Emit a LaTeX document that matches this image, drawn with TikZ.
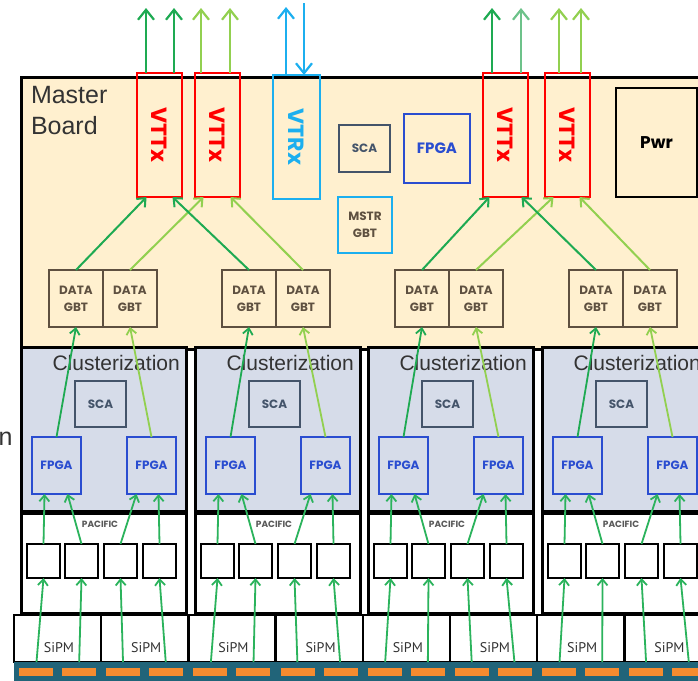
\documentclass[tikz,border=0pt]{standalone}
\usepackage{fontspec}
\usepackage{graphicx}
\setmainfont{Liberation Sans}
\newfontfamily\geo{Poppins}
\newfontfamily\ptsans{PT Sans}
\usetikzlibrary{arrows.meta,calc}
\definecolor{beige}{HTML}{FFF0CF}
\definecolor{clfill}{HTML}{D6DCE9}
\definecolor{dkg}{HTML}{1EAA52}
\definecolor{ltg}{HTML}{92D050}
\definecolor{mdg}{HTML}{6DC28A}
\definecolor{lowg}{HTML}{2BB35C}
\definecolor{vtrx}{HTML}{1CAFEF}
\definecolor{fpgab}{HTML}{2A4DD0}
\definecolor{slate}{HTML}{44546A}
\definecolor{gbt}{HTML}{5E5040}
\definecolor{tealbar}{HTML}{216479}
\definecolor{orng}{HTML}{F58B2F}
\definecolor{txtgray}{HTML}{333333}
\begin{document}
\begin{tikzpicture}[x=1pt,y=-1pt,
  bx/.style={anchor=north west, inner sep=0pt, outer sep=0pt},
  board/.style={bx, draw=black, line width=3pt, fill=beige, minimum width=700, minimum height=272},
  clbox/.style={bx, draw=black, line width=3pt, fill=clfill, minimum width=165, minimum height=164},
  pacbox/.style={bx, draw=black, line width=3pt, fill=white, minimum width=165, minimum height=100},
  sq/.style={bx, draw=black, line width=1.6pt, fill=white, minimum width=33, minimum height=34},
  sipm/.style={bx, draw=black, line width=2.5pt, fill=white, minimum width=87.2, minimum height=47},
  orect/.style={bx, fill=orng, minimum width=34, minimum height=8},
  vttx/.style={bx, draw=red, line width=1.5pt, minimum width=45, minimum height=124, text=red, font=\geo\bfseries\fontsize{22}{22}\selectfont},
  gbtbox/.style={bx, draw=gbt, line width=1.4pt, minimum width=54, minimum height=57, text=gbt, align=center, font=\geo\bfseries\fontsize{12}{17}\selectfont},
  scabox/.style={bx, draw=slate, line width=1.4pt, minimum width=51, minimum height=46, text=slate, font=\geo\bfseries\fontsize{12}{12}\selectfont},
  fpgabox/.style={bx, draw=fpgab, line width=1.4pt, fill=clfill, minimum width=49, minimum height=57, text=fpgab, font=\geo\bfseries\fontsize{12}{12}\selectfont},
  outar/.style={line width=2.2pt, -{Straight Barb[length=10pt,width=16pt]}},
  upar/.style={line width=2pt, -{Straight Barb[length=7pt,width=12pt]}},
  midar/.style={line width=1.8pt, -{Straight Barb[length=6pt,width=10pt]}},
  lowar/.style={line width=1.8pt, lowg, -{Straight Barb[length=6pt,width=10pt]}}
]
\useasboundingbox (0,0) rectangle (698,680);
\clip (0,0) rectangle (698,680);

% master board
\node[board] (mb) at (21,77) {};
\node[bx, anchor=north west, align=left, text=txtgray, font=\fontsize{25}{31}\selectfont] (mbt) at (31,86) {Master\\Board};

% VTTx / VTRx
\node[vttx] (vt1) at (137,73) {\rotatebox{-90}{VTTx}};
\node[vttx] (vt2) at (195,73) {\rotatebox{-90}{VTTx}};
\node[vttx] (vt3) at (483,73) {\rotatebox{-90}{VTTx}};
\node[vttx] (vt4) at (545,73) {\rotatebox{-90}{VTTx}};
\node[vttx, draw=vtrx, text=vtrx, minimum width=47] (vr) at (273,75) {\rotatebox{-90}{VTRx}};

\node[scabox, minimum height=47] (msca) at (339,125) {SCA};
\node[fpgabox, fill=beige, minimum width=66, minimum height=69, font=\geo\bfseries\fontsize{15}{15}\selectfont] (mfpga) at (404,114) {FPGA};
\node[gbtbox, draw=vtrx, minimum width=54, minimum height=56] (mstr) at (338,197) {MSTR\\GBT};
\node[bx, draw=black, line width=1.8pt, minimum width=81, minimum height=109, font=\geo\bfseries\fontsize{17}{17}\selectfont] (pwr) at (616,88) {Pwr};

% partial label on the left
\node[bx, anchor=base west, text=txtgray, font=\fontsize{25}{25}\selectfont] (nn) at (-1.5,445) {n};

% clusters
\foreach \c/\ox/\dl in {1/21/49, 2/195/222, 3/368/395, 4/542/569} {
  \node[clbox] (cl\c) at (\ox,347) {};
  \node[anchor=base east, inner sep=0pt, text=txtgray, font=\fontsize{21}{21}\selectfont] (ct\c) at (\ox+159,370) {Clusterization};
  \node[scabox, fill=clfill] (sca\c) at (\ox+54,381) {SCA};
  \node[fpgabox] (fl\c) at (\ox+11,437) {FPGA};
  \node[fpgabox] (fr\c) at (\ox+106,437) {FPGA};
  \node[pacbox] (pa\c) at (\ox,513) {};
  \node[inner sep=0pt, text=black!65, font=\geo\bfseries\fontsize{9}{9}\selectfont] (pt\c) at (\ox+79,524) {PACIFIC};
  \node[sq] (s\c1) at (\ox+6,544) {};
  \node[sq] (s\c2) at (\ox+44,544) {};
  \node[sq] (s\c3) at (\ox+83,544) {};
  \node[sq] (s\c4) at (\ox+122,544) {};
  \node[gbtbox] (dl\c) at (\dl,270) {DATA\\GBT};
  \node[gbtbox] (dr\c) at (\dl+54,270) {DATA\\GBT};
}

% SiPM row and bar
\foreach \j in {0,...,7} {
  \node[sipm] (sp\j) at (14+87.2*\j,615) {};
  \node[inner sep=0pt, text=txtgray, font=\ptsans\fontsize{14}{14}\selectfont] (spt\j) at (14+87.2*\j+45,648) {SiPM};
}
\node[bx, fill=tealbar, minimum width=700, minimum height=22] (bar) at (14,662) {};
\foreach \j in {0,...,7} {
  \node[orect] (oa\j) at (14+87.2*\j+5,668) {};
  \node[orect] (ob\j) at (14+87.2*\j+48,668) {};
}

% lower arrows
\foreach \c in {1,...,4} {
  \pgfmathtruncatemacro\ja{2*\c-2}
  \pgfmathtruncatemacro\jb{2*\c-1}
  \draw[lowar, shorten <=6pt] (oa\ja.north) -- (s\c1.south);
  \draw[lowar, shorten <=6pt] (ob\ja.north) -- (s\c2.south);
  \draw[lowar, shorten <=6pt] (oa\jb.north) -- (s\c3.south);
  \draw[lowar, shorten <=6pt] (ob\jb.north) -- (s\c4.south);
  \draw[lowar] (s\c1.north) -- ([xshift=-12pt]fl\c.south);
  \draw[lowar] (s\c2.north) -- ([xshift=11pt]fl\c.south);
  \draw[lowar] (s\c3.north) -- ([xshift=-15pt]fr\c.south);
  \draw[lowar] (s\c4.north) -- ([xshift=7pt]fr\c.south);
  \draw[midar, dkg] (fl\c.north) -- (dl\c.south);
  \draw[midar, ltg] (fr\c.north) -- (dr\c.south);
}

% DATA GBT -> VTTx
\draw[upar, dkg] (dl1.north) -- ([xshift=-13pt]vt1.south);
\draw[upar, ltg] (dr1.north) -- ([xshift=-14pt]vt2.south);
\draw[upar, dkg] (dl2.north) -- ([xshift=13pt]vt1.south);
\draw[upar, ltg] (dr2.north) -- ([xshift=13pt]vt2.south);
\draw[upar, dkg] (dl3.north) -- ([xshift=-16pt]vt3.south);
\draw[upar, ltg] (dr3.north) -- ([xshift=-14pt]vt4.south);
\draw[upar, dkg] (dl4.north) -- ([xshift=16pt]vt3.south);
\draw[upar, ltg] (dr4.north) -- ([xshift=12pt]vt4.south);

% outgoing links
\coordinate (q1) at (146,8);
\coordinate (q2) at (174,8);
\coordinate (q3) at (201,8);
\coordinate (q4) at (230,8);
\coordinate (q5) at (286,7);
\coordinate (q6) at (304,3);
\coordinate (q7) at (492,8);
\coordinate (q8) at (521,8);
\coordinate (q9) at (559,8);
\coordinate (q10) at (581,8);
\draw[outar, dkg] (vt1.north -| q1) -- (q1);
\draw[outar, dkg] (vt1.north -| q2) -- (q2);
\draw[outar, ltg] (vt2.north -| q3) -- (q3);
\draw[outar, ltg] (vt2.north -| q4) -- (q4);
\draw[outar, vtrx] (vr.north -| q5) -- (q5);
\draw[outar, vtrx] (q6) -- (vr.north -| q6);
\draw[outar, dkg] (vt3.north -| q7) -- (q7);
\draw[outar, mdg] (vt3.north -| q8) -- (q8);
\draw[outar, ltg] (vt4.north -| q9) -- (q9);
\draw[outar, ltg] (vt4.north -| q10) -- (q10);
\end{tikzpicture}
\end{document}
